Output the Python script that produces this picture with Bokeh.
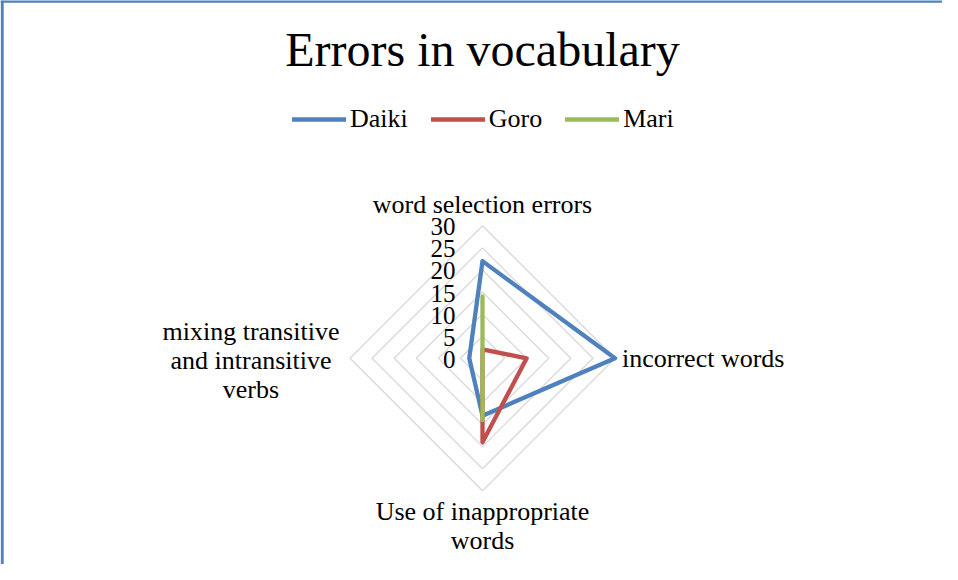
import numpy as np
from bokeh.plotting import figure
from bokeh.models import Range1d, Legend, LegendItem, Label, Span, ColumnDataSource
from bokeh.core.properties import value
from bokeh.embed import file_html
from bokeh.resources import INLINE

# ---- data ----
title_text = "Errors in vocabulary"
categories = ["word selection errors", "incorrect words",
              "Use of inappropriate\nwords", "mixing transitive\nand intransitive\nverbs"]
series_names = ["Daiki", "Goro", "Mari"]
daiki = [22, 30, 13, 3]
goro = [2, 10, 19, 0]
mari = [14, 0, 14, 0]
tick_values = [0, 5, 10, 15, 20, 25, 30]
tick_labels = ["0", "5", "10", "15", "20", "25", "30"]
r_max = 30

colors = ["#4F81BD", "#C0504D", "#9BBB59"]
FONT = "Liberation Serif"

# ---- geometry (pixels) ----
W, H = 942, 564
s = 4.417            # px per unit
cx, cy = 482, 357.8  # canvas centre
x0, x1 = -cx / s, (W - cx) / s
y0, y1 = -(H - cy) / s, cy / s

p = figure(width=W, height=H, output_backend="svg", toolbar_location=None,
           x_range=Range1d(x0, x1), y_range=Range1d(y0, y1),
           min_border=0, outline_line_color=None)
p.axis.visible = False
p.grid.visible = False
p.background_fill_color = "white"
p.border_fill_color = "white"

n = len(categories)
angles = np.pi / 2 - np.arange(n) * 2 * np.pi / n

# grid rings
for t in tick_values[1:]:
    xs = list(t * np.cos(angles)) + [t * np.cos(angles[0])]
    ys = list(t * np.sin(angles)) + [t * np.sin(angles[0])]
    p.line(xs, ys, line_color="#D9D9D9", line_width=1.3)

# series
renderers = []
for name, vals, col in zip(series_names, [daiki, goro, mari], colors):
    v = np.array(vals + [vals[0]], dtype=float)
    a = np.append(angles, angles[0])
    r = p.line(v * np.cos(a), v * np.sin(a), line_color=col, line_width=4.3,
               line_join="round", line_cap="round")
    renderers.append(r)

# tick labels
tsrc = ColumnDataSource(dict(x=[0] * len(tick_values), y=tick_values, t=tick_labels))
p.text(x="x", y="y", text="t", source=tsrc, text_align="right", text_baseline="middle",
       x_offset=-27, y_offset=1, text_font=value(FONT), text_font_size="25px",
       text_color="black")

# category labels
lx = [r_max * np.cos(a) for a in angles]
ly = [r_max * np.sin(a) for a in angles]
aligns = ["center", "left", "center", "center"]
baselines = ["bottom", "middle", "top", "middle"]
xoffs = [0, 7, 0, -99]
yoffs = [-7, 0, 6, 2]
for i in range(n):
    p.text(x=[lx[i]], y=[ly[i]], text=[categories[i]], text_align=aligns[i],
           text_baseline=baselines[i], x_offset=xoffs[i], y_offset=yoffs[i],
           text_font=value(FONT), text_font_size="26px", text_color="black",
           text_line_height=1.0)

# title
p.add_layout(Label(x=0, y=H - 49, y_units="screen", text=title_text, text_align="center",
                   text_baseline="middle", text_font=FONT, text_font_size="48px",
                   text_color="black"))

# legend
legend = Legend(items=[LegendItem(label=nm, renderers=[r]) for nm, r in zip(series_names, renderers)],
                orientation="horizontal", location=(292, 430), glyph_width=54, glyph_height=30,
                label_height=30, label_standoff=4, spacing=23, padding=0, margin=0,
                border_line_color=None, background_fill_alpha=0,
                label_text_font=FONT, label_text_font_size="26px", label_text_color="black")
p.add_layout(legend, "center")

# frame border (left and top visible)
p.add_layout(Span(location=x0 + 1.7 / s, dimension="height", line_color="#4F81BD", line_width=3))
p.add_layout(Span(location=y1 - 0.8 / s, dimension="width", line_color="#4F81BD", line_width=3))

open("out.html", "w").write(file_html(p, INLINE))
